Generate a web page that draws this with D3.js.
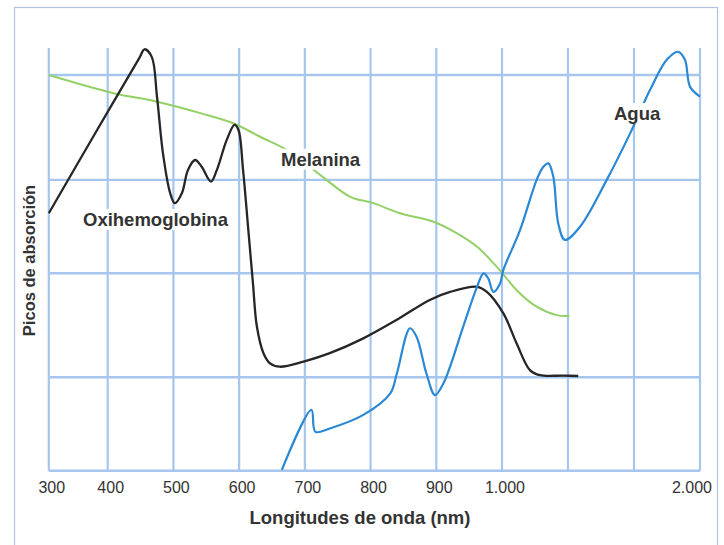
<!DOCTYPE html>
<html>
<head>
<meta charset="utf-8">
<script src="https://cdn.jsdelivr.net/npm/d3@7"></script>
<style>
  body { margin: 0; background: #fff; }
  text { font-family: "Liberation Sans", Arial, Helvetica, sans-serif; fill: #333; }
</style>
</head>
<body>
<script>
// Absorption peaks (arbitrary units, 0-100)
var oxyWave = [300, 382, 448, 456, 467, 475, 484, 495, 502, 513, 522, 533, 543, 557, 566, 581, 593, 599, 606, 614, 621, 627, 637, 647, 662, 698, 738, 789, 840, 890, 921, 962, 977, 1007, 1074, 1141, 1192, 1310, 1385];
var oxyAbs  = [60.9, 80.6, 97.6, 99.7, 97.9, 88.5, 75.2, 65.7, 63.3, 65.7, 71.1, 73.5, 71.9, 68.4, 71.1, 78.2, 81.8, 80.6, 71.1, 56.9, 44.4, 34.1, 27.8, 25.4, 24.6, 25.8, 27.8, 31.3, 35.7, 40.4, 42.3, 43.5, 42.3, 37.2, 30.1, 23.8, 22.6, 22.5, 22.4];

var melWave = [300, 409, 475, 541, 591, 632, 677, 728, 769, 804, 845, 896, 931, 962, 987, 1002, 1074, 1175, 1276, 1340];
var melAbs  = [93.6, 89.3, 87.3, 84.6, 82.2, 79.0, 75.5, 69.4, 64.8, 63.3, 60.9, 58.9, 56.2, 53.0, 49.1, 46.7, 42.7, 38.8, 36.8, 36.6];

var waterWave = [665, 710, 716, 738, 789, 830, 840, 860, 870, 885, 898, 911, 941, 962, 972, 979, 987, 997, 1007, 1091, 1175, 1209, 1234, 1259, 1284, 1318, 1394, 1529, 1647, 1748, 1832, 1890, 1924, 1950, 2000];
var waterAbs  = [0.2, 14.4, 9.2, 10.0, 13.2, 18.3, 23.0, 33.7, 31.7, 23.0, 17.9, 20.7, 34.1, 43.5, 46.7, 45.5, 42.3, 44.3, 47.5, 56.9, 68.8, 71.9, 72.7, 69.6, 58.5, 54.6, 57.7, 68.8, 79.8, 90.1, 97.2, 99.1, 97.2, 90.8, 88.5];

var xGrid  = [300, 400, 500, 600, 700, 800, 900, 1000, 1333.3, 1666.7, 2000];
var xTicks = [300, 400, 500, 600, 700, 800, 900, 1000, 2000];
var yGrid  = [22.1, 46.7, 68.8, 93.6];

var seriesNames = ["Oxihemoglobina", "Melanina", "Agua"];

var width = 724, height = 545;

var svg = d3.select("body").append("svg")
    .attr("width", width)
    .attr("height", height);

svg.append("rect")
    .attr("width", width).attr("height", height)
    .attr("fill", "#fff");

// outer frame
svg.append("rect")
    .attr("x", 14.5).attr("y", 7.5)
    .attr("width", 703).attr("height", 560)
    .attr("fill", "none")
    .attr("stroke", "#b3c2e0")
    .attr("stroke-width", 1.2);

// broken axis: linear 300-1000, compressed 1000-2000
var x = d3.scaleLinear()
    .domain([300, 400, 1000, 2000])
    .range([48.8, 107.7, 502, 700]);

var y = d3.scaleLinear()
    .domain([0, 100])
    .range([470.7, 48]);

var grid = svg.append("g");

grid.selectAll(".vgrid")
    .data(xGrid)
    .enter().append("line")
    .attr("x1", function(d) { return x(d); })
    .attr("x2", function(d) { return x(d); })
    .attr("y1", y(100))
    .attr("y2", y(0))
    .attr("stroke", "#a6c6ee")
    .attr("stroke-width", 2.2);

grid.selectAll(".hgrid")
    .data([0].concat(yGrid))
    .enter().append("line")
    .attr("x1", x(300))
    .attr("x2", x(2000))
    .attr("y1", function(d) { return y(d); })
    .attr("y2", function(d) { return y(d); })
    .attr("stroke", "#a6c6ee")
    .attr("stroke-width", 2.4);

// tick labels with Spanish thousands separator
var es = d3.formatLocale({ decimal: ",", thousands: ".", grouping: [3], currency: ["", " €"] });
var fmt = es.format(",");

svg.selectAll(".tick-label")
    .data(xTicks)
    .enter().append("text")
    .attr("x", function(d) { return x(d) + (d === 2000 ? -8 : 3); })
    .attr("y", 493)
    .attr("text-anchor", "middle")
    .attr("font-size", "16px")
    .text(function(d) { return fmt(d); });

svg.append("text")
    .attr("x", 360)
    .attr("y", 524)
    .attr("text-anchor", "middle")
    .attr("font-size", "18.5px")
    .attr("font-weight", "bold")
    .text("Longitudes de onda (nm)");

svg.append("text")
    .attr("transform", "translate(34.5,260.5) rotate(-90)")
    .attr("text-anchor", "middle")
    .attr("font-size", "16.5px")
    .attr("font-weight", "bold")
    .text("Picos de absorción");

// curves
var line = d3.line()
    .x(function(d) { return x(d[0]); })
    .y(function(d) { return y(d[1]); })
    .curve(d3.curveCatmullRom.alpha(0.5));

function pairs(a, b) { return a.map(function(v, i) { return [v, b[i]]; }); }

svg.append("path")
    .datum(pairs(melWave, melAbs))
    .attr("fill", "none")
    .attr("stroke", "#93d067")
    .attr("stroke-width", 2)
    .attr("d", line);

svg.append("path")
    .datum(pairs(oxyWave, oxyAbs))
    .attr("fill", "none")
    .attr("stroke", "#262626")
    .attr("stroke-width", 2.3)
    .attr("stroke-linejoin", "round")
    .attr("d", line);

svg.append("path")
    .datum(pairs(waterWave, waterAbs))
    .attr("fill", "none")
    .attr("stroke", "#2a88d4")
    .attr("stroke-width", 2.2)
    .attr("stroke-linejoin", "round")
    .attr("d", line);

// series labels on white boxes
var labelPos = [[83, 226], [281, 165.7], [614, 120]];

seriesNames.forEach(function(name, i) {
    var g = svg.append("g");
    var t = g.append("text")
        .attr("x", labelPos[i][0])
        .attr("y", labelPos[i][1])
        .attr("font-size", "18.5px")
        .attr("font-weight", "bold")
        .text(name);
    var b = t.node().getBBox();
    g.insert("rect", "text")
        .attr("x", b.x - 3).attr("y", b.y)
        .attr("width", b.width + 6).attr("height", b.height)
        .attr("fill", "#fff");
});
</script>
</body>
</html>
